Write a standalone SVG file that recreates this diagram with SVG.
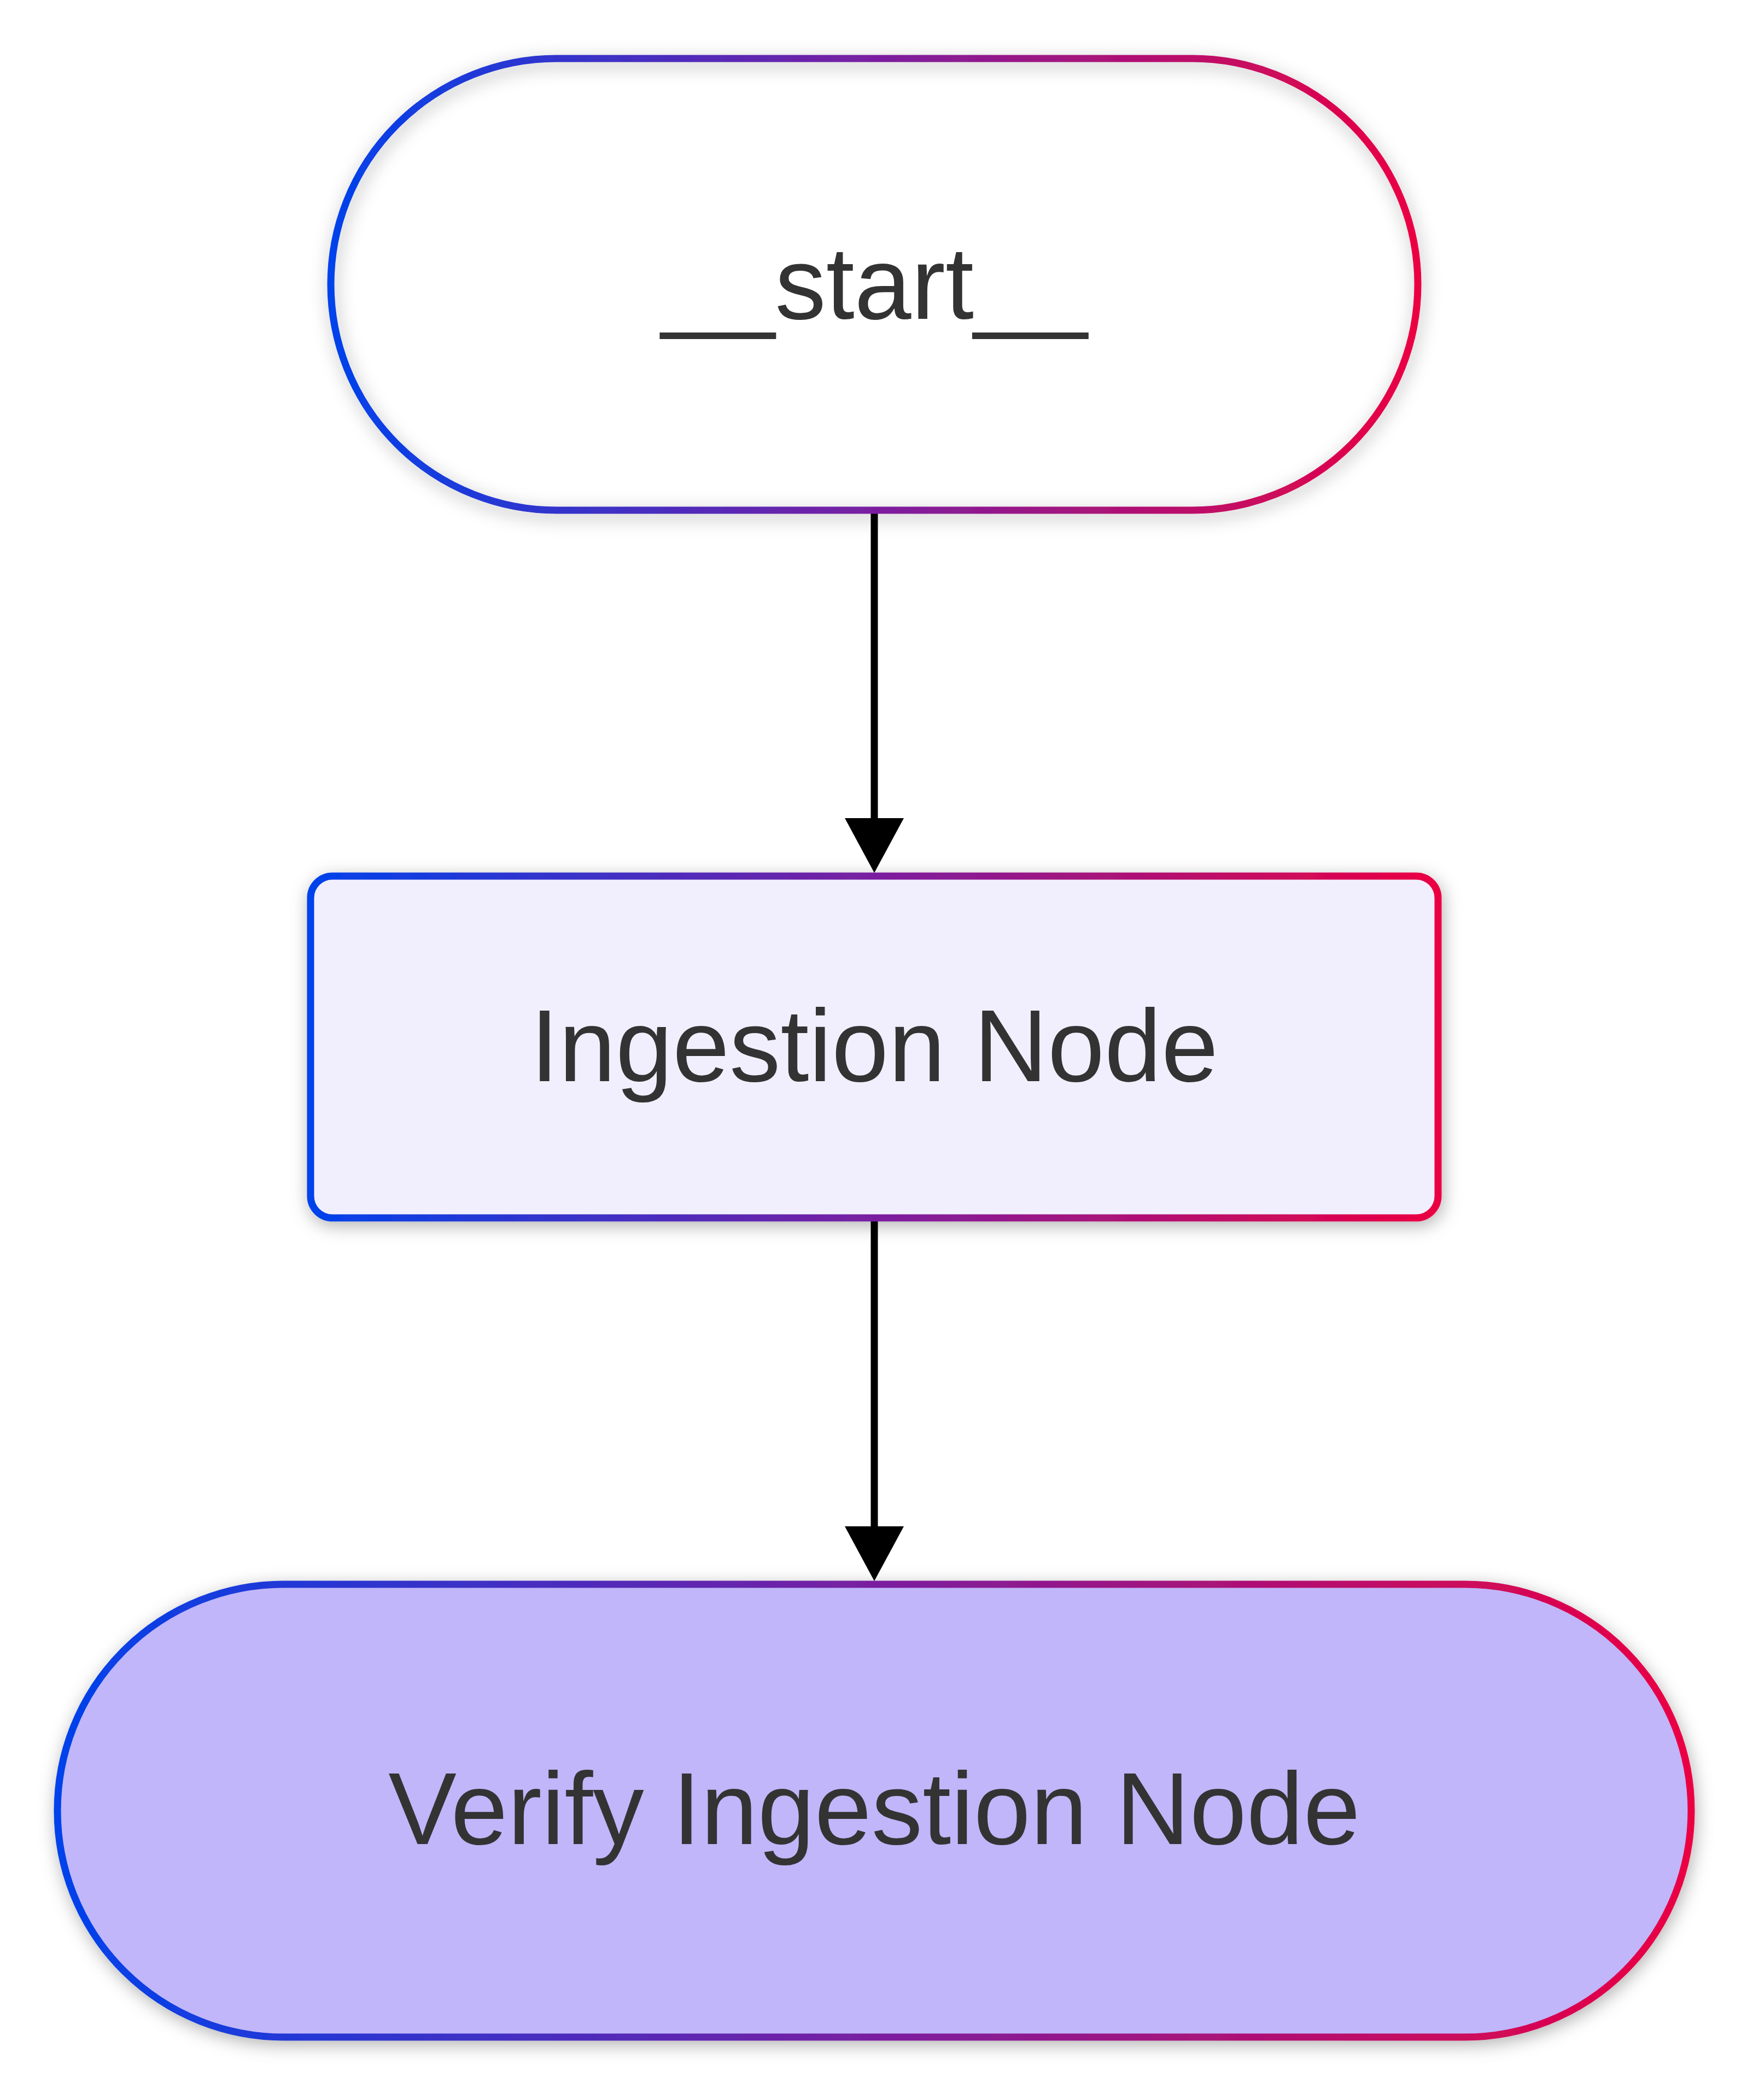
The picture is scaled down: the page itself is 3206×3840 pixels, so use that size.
<svg xmlns="http://www.w3.org/2000/svg" width="3206" height="3840" viewBox="0 0 3206 3840">
  <defs>
    <linearGradient id="edgeGrad" x1="0" y1="0" x2="1" y2="0">
      <stop offset="0" stop-color="#0042EB"/>
      <stop offset="0.5" stop-color="#7A1FA0"/>
      <stop offset="1" stop-color="#EB0042"/>
    </linearGradient>
    <filter id="shadow" x="-10%" y="-20%" width="120%" height="150%">
      <feDropShadow dx="3" dy="8" stdDeviation="16" flood-color="#000" flood-opacity="0.3"/>
    </filter>
    <marker id="arrow" markerUnits="userSpaceOnUse" markerWidth="100" markerHeight="108" viewBox="0 0 100 108" refX="0" refY="54" orient="auto">
      <path d="M0,0 L100,54 L0,108 Z" fill="#000"/>
    </marker>
  </defs>
  <style>
    .node { stroke: url(#edgeGrad); stroke-width: 13; filter: url(#shadow); }
    .label { font-family: "Liberation Sans", Arial, sans-serif; font-size: 187px; fill: #333333; text-anchor: middle; }
    .edge { stroke: #000; stroke-width: 13; fill: none; marker-end: url(#arrow); }
  </style>
  <rect width="3206" height="3840" fill="#FFFFFF"/>
  <g id="connectors">
    <line class="edge" x1="1599" y1="933" x2="1599" y2="1496"/>
    <line class="edge" x1="1599" y1="2228" x2="1599" y2="2791"/>
  </g>
  <g id="node-start">
    <rect class="node" x="605" y="107" width="1988" height="826" rx="413" ry="413" fill="none"/>
    <text class="label" x="1599" y="583">__start__</text>
  </g>
  <g id="node-ingestion">
    <rect class="node" x="568" y="1602" width="2062" height="625" rx="40" ry="40" fill="#F1EFFD"/>
    <text class="label" x="1599" y="1977">Ingestion Node</text>
  </g>
  <g id="node-verify">
    <rect class="node" x="105" y="2897" width="2988" height="828" rx="414" ry="414" fill="#C0B6F9"/>
    <text class="label" x="1599" y="3372">Verify Ingestion Node</text>
  </g>
</svg>
